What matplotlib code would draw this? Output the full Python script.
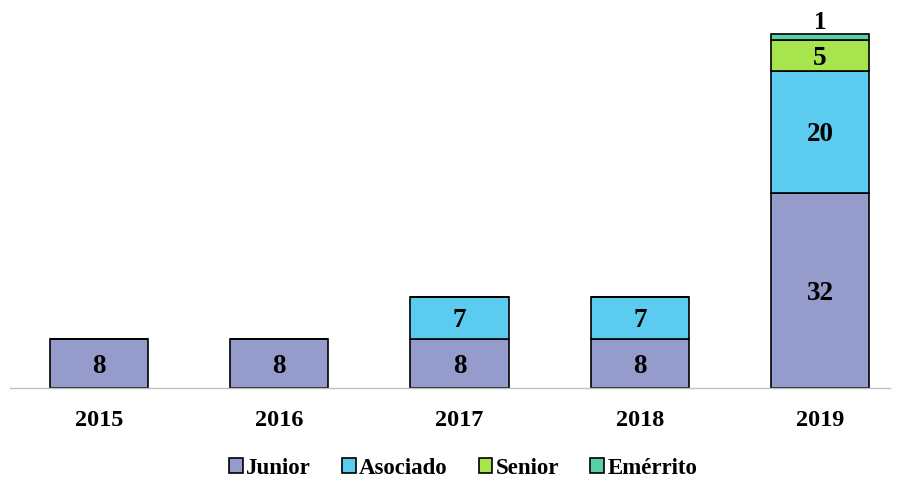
import matplotlib.pyplot as plt
import numpy as np

plt.rcParams['font.family'] = ['Liberation Serif', 'DejaVu Serif']
plt.rcParams['font.weight'] = 'bold'

# data
years = ['2015', '2016', '2017', '2018', '2019']
junior = [8, 8, 8, 8, 32]
asociado = [0, 0, 7, 7, 20]
senior = [0, 0, 0, 0, 5]
emerrito = [0, 0, 0, 0, 1]

series = [('Junior', junior, '#959CCB'),
          ('Asociado', asociado, '#5BCBF0'),
          ('Senior', senior, '#A8E44E'),
          ('Emérrito', emerrito, '#5BCFA8')]

fig = plt.figure(figsize=(9.01, 4.8), dpi=100)
ax = fig.add_axes([10 / 901, 92 / 480, 880 / 901, 366 / 480])

x = np.arange(len(years))
bottom = np.zeros(len(years))
for name, vals, color in series:
    vals = np.array(vals, dtype=float)
    bars = ax.bar(x, vals, 0.545, bottom=bottom, color=color,
                  edgecolor='black', linewidth=1.2, label=name)
    for xi, b, v in zip(x, bottom, vals):
        if v == 0:
            continue
        if v < 2:
            ax.text(xi, b + v + 0.1, f'{int(v)}', ha='center', va='bottom',
                    fontsize=18, fontweight='bold')
        else:
            ax.text(xi, b + v / 2, f'{int(v)}', ha='center', va='center_baseline',
                    fontsize=19.5, fontweight='bold')
    bottom += vals

ax.set_xlim(-0.494, 4.388)
ax.set_ylim(0, 60)
ax.set_xticks(x)
ax.set_xticklabels(years, fontsize=17.5, fontweight='bold')
ax.tick_params(axis='x', length=0, pad=16)
ax.set_yticks([])
for s in ['top', 'right', 'left']:
    ax.spines[s].set_visible(False)
ax.spines['bottom'].set_color('#BFBFBF')
ax.spines['bottom'].set_linewidth(1)

leg = fig.legend(loc='center', bbox_to_anchor=(463 / 901, 1 - 468 / 480), ncol=4,
                 frameon=False, prop={'size': 16.5, 'weight': 'bold'},
                 handlelength=0.6, handleheight=0.6, handletextpad=0.15,
                 columnspacing=1.35)

fig.savefig('out.png', dpi=100)
